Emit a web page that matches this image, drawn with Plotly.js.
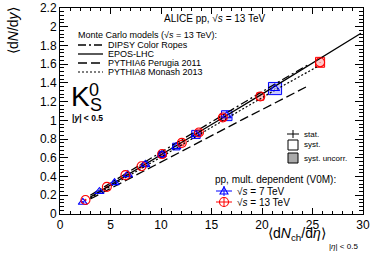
<!DOCTYPE html>
<html>
<head>
<meta charset="utf-8">
<script src="https://cdn.plot.ly/plotly-3.0.1.min.js"></script>
<style>html,body{margin:0;padding:0;background:#fff;}#chart{width:374px;height:255px;}</style>
</head>
<body>
<div id="chart"></div>
<script>
// ---- data ----
const x7  = [2.26, 3.90, 5.40, 6.72, 8.45, 10.08, 11.51, 13.46, 16.51, 21.29];
const y7  = [0.125, 0.24, 0.335, 0.42, 0.53, 0.635, 0.72, 0.85, 1.05, 1.34];
const sx7 = [0.10, 0.14, 0.18, 0.22, 0.27, 0.32, 0.36, 0.42, 0.52, 0.65];
const sy7 = [0.007, 0.013, 0.017, 0.021, 0.027, 0.032, 0.036, 0.043, 0.053, 0.065];
const st7 = [0.002, 0.002, 0.002, 0.002, 0.002, 0.002, 0.002, 0.002, 0.002, 0.003];

const x13  = [2.52, 4.64, 6.48, 8.07, 10.11, 12.06, 13.76, 16.12, 19.83, 25.75];
const y13  = [0.15, 0.29, 0.415, 0.51, 0.64, 0.76, 0.87, 1.03, 1.255, 1.62];
const sx13 = [0.06, 0.10, 0.13, 0.16, 0.19, 0.22, 0.25, 0.29, 0.35, 0.45];
const sy13 = [0.006, 0.010, 0.014, 0.017, 0.021, 0.025, 0.028, 0.033, 0.040, 0.053];
const st13 = [0.002, 0.002, 0.002, 0.002, 0.002, 0.002, 0.002, 0.002, 0.002, 0.003];

const dipsyX = [3.0, 6, 9, 12, 15, 18, 21, 24.5];
const dipsyY = [0.20, 0.40, 0.595, 0.79, 0.985, 1.18, 1.37, 1.59];
const eposX  = [3.0, 8, 12, 16, 20, 25, 29.8];
const eposY  = [0.18, 0.50, 0.76, 1.02, 1.28, 1.61, 1.93];
const py6X   = [3.0, 6, 9, 12, 15, 18, 21, 24.6];
const py6Y   = [0.16, 0.33, 0.495, 0.665, 0.835, 1.005, 1.17, 1.37];
const py8X   = [3.0, 6, 9, 12, 15, 18, 21, 25.5];
const py8Y   = [0.17, 0.355, 0.545, 0.735, 0.925, 1.115, 1.305, 1.575];

const mcNames = ["DIPSY Color Ropes", "EPOS-LHC", "PYTHIA6 Perugia 2011", "PYTHIA8 Monash 2013"];
const mcDash  = ["8px,3px,2px,3px", "solid", "9px,4px", "2px,2px"];
const mcWidth = [1.3, 1.3, 1.3, 1.2];

const xTickVals = [0, 5, 10, 15, 20, 25, 30];

// ---- layout helpers (pixel -> paper) ----
const L = 60, T = 8, PW = 303, PH = 206;
const px = v => (v - L) / PW;
const py = v => (T + PH - v) / PH;
const FONT = "Liberation Sans, Arial, Helvetica, sans-serif";

const BLUE = "rgb(0,0,255)", RED = "rgb(255,0,0)";

const traces = [];
const mcX = [dipsyX, eposX, py6X, py8X], mcY = [dipsyY, eposY, py6Y, py8Y];
for (let i = 0; i < 4; i++) {
  traces.push({x: mcX[i], y: mcY[i], mode: "lines", type: "scatter", showlegend: false,
    line: {color: "black", width: mcWidth[i], dash: mcDash[i]}, hoverinfo: "skip"});
}
traces.push({x: x7, y: y7, mode: "markers", type: "scatter", showlegend: false,
  marker: {symbol: "triangle-up-open", size: 8, color: BLUE, line: {width: 1.1, color: BLUE}},
  error_y: {type: "data", array: st7, color: BLUE, thickness: 1, width: 0}});
traces.push({x: x13, y: y13, mode: "markers", type: "scatter", showlegend: false,
  marker: {symbol: "circle-open", size: 9, color: RED, line: {width: 1.1, color: RED}},
  error_y: {type: "data", array: st13, color: RED, thickness: 1, width: 0}});

const shapes = [];
x7.forEach((v, i) => shapes.push({type: "rect", xref: "x", yref: "y", layer: "below",
  x0: v - sx7[i], x1: v + sx7[i], y0: y7[i] - sy7[i], y1: y7[i] + sy7[i],
  line: {color: BLUE, width: 1}, fillcolor: "rgba(0,0,255,0.22)"}));
x13.forEach((v, i) => shapes.push({type: "rect", xref: "x", yref: "y", layer: "below",
  x0: v - sx13[i], x1: v + sx13[i], y0: y13[i] - sy13[i], y1: y13[i] + sy13[i],
  line: {color: RED, width: 1}, fillcolor: "rgba(255,0,0,0.22)"}));

const legY = [45, 54, 63, 72];
legY.forEach((yy, i) => shapes.push({type: "line", xref: "paper", yref: "paper",
  x0: px(78), x1: px(103), y0: py(yy), y1: py(yy),
  line: {color: "black", width: mcWidth[i], dash: mcDash[i]}}));

shapes.push({type: "line", xref: "paper", yref: "paper", x0: px(287), x1: px(299), y0: py(134), y1: py(134), line: {color: "black", width: 1}});
shapes.push({type: "line", xref: "paper", yref: "paper", x0: px(293), x1: px(293), y0: py(130), y1: py(138), line: {color: "black", width: 1}});
shapes.push({type: "rect", xref: "paper", yref: "paper", x0: px(288), x1: px(298), y0: py(150), y1: py(140), line: {color: "black", width: 1}, fillcolor: "rgba(0,0,0,0)"});
shapes.push({type: "rect", xref: "paper", yref: "paper", x0: px(288), x1: px(298), y0: py(163), y1: py(153), line: {color: "black", width: 1}, fillcolor: "rgb(170,170,170)"});

[[191, BLUE], [202, RED]].forEach(([yy, c], i) => {
  shapes.push({type: "line", xref: "paper", yref: "paper", x0: px(216), x1: px(232), y0: py(yy), y1: py(yy), line: {color: c, width: 1}});
  shapes.push({type: "line", xref: "paper", yref: "paper", x0: px(224), x1: px(224), y0: py(yy - 5), y1: py(yy + 5), line: {color: c, width: 1}});
  if (i === 0) {
    shapes.push({type: "path", xref: "paper", yref: "paper", xsizemode: "pixel", ysizemode: "pixel",
      xanchor: px(224), yanchor: py(yy), path: "M-4,-3L4,-3L0,4Z", line: {color: c, width: 1.1}, fillcolor: "rgba(0,0,0,0)"});
  } else {
    shapes.push({type: "circle", xref: "paper", yref: "paper", xsizemode: "pixel", ysizemode: "pixel",
      xanchor: px(224), yanchor: py(yy), x0: -4.5, x1: 4.5, y0: -4.5, y1: 4.5, line: {color: c, width: 1.1}, fillcolor: "rgba(0,0,0,0)"});
  }
});

function ann(text, x, y, size, opts) {
  return Object.assign({text: text, xref: "paper", yref: "paper", x: px(x), y: py(y),
    xanchor: "left", yanchor: "middle", showarrow: false, borderpad: 0,
    font: {family: FONT, size: size, color: "black"}}, opts || {});
}

const annotations = [
  ann("ALICE pp, √<i>s</i> = 13 TeV", 163, 19, 10),
  ann("Monte Carlo models (√<i>s</i> = 13 TeV):", 77, 35, 9),
  ann("K", 70, 96, 28),
  ann("0", 88, 90, 18),
  ann("S", 89, 105, 18),
  ann("<b>|<i>y</i>| &lt; 0.5</b>", 71, 118, 8.5),
  ann("stat.", 303, 134, 8),
  ann("syst.", 303, 145, 8),
  ann("syst. uncorr.", 303, 158, 8),
  ann("pp, mult. dependent (V0M):", 214, 179, 10),
  ann("√<i>s</i> = 7 TeV", 236, 191, 10),
  ann("√<i>s</i> = 13 TeV", 236, 202, 10),
  ann("⟨d<i>N</i><sub>ch</sub>/d<i>η</i>⟩", 327, 234, 14, {xanchor: "right"}),
  ann("|<i>η</i>| &lt; 0.5", 328, 246, 8),
  ann("⟨d<i>N</i>/d<i>y</i>⟩", 13, 31, 14, {xanchor: "center", textangle: -90})
];
mcNames.forEach((n, i) => annotations.push(ann(n, 107, legY[i], 9)));

const axisCommon = {showgrid: false, zeroline: false, showline: true, linecolor: "black", linewidth: 1,
  mirror: "allticks", ticks: "inside", tickcolor: "black", tickwidth: 1,
  tickfont: {family: FONT, size: 12, color: "black"}};

const layout = {
  width: 374, height: 255,
  margin: {l: L, r: 374 - L - PW, t: T, b: 255 - T - PH},
  paper_bgcolor: "white", plot_bgcolor: "white",
  showlegend: false,
  xaxis: Object.assign({}, axisCommon, {range: [0, 30], tickmode: "array", tickvals: xTickVals, ticklen: 6,
    minor: {dtick: 1, tick0: 0, ticklen: 3, ticks: "inside", tickcolor: "black", showgrid: false}}),
  yaxis: Object.assign({}, axisCommon, {range: [0, 2.2], dtick: 0.2, tick0: 0, ticklen: 8,
    minor: {dtick: 0.04, tick0: 0, ticklen: 4, ticks: "inside", tickcolor: "black", showgrid: false}}),
  shapes: shapes,
  annotations: annotations
};

Plotly.newPlot("chart", traces, layout, {staticPlot: true, displayModeBar: false});
</script>
</body>
</html>
